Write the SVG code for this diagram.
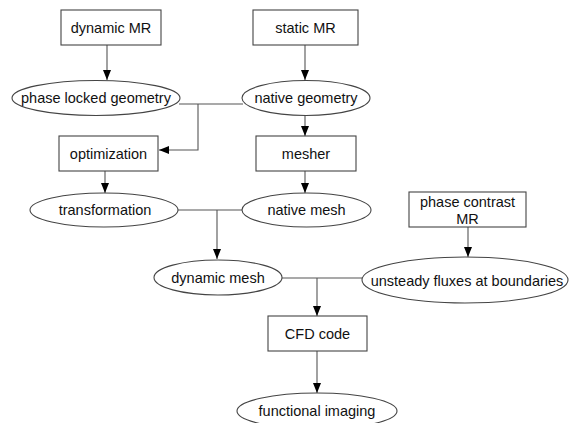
<svg xmlns="http://www.w3.org/2000/svg" width="574" height="423" viewBox="0 0 574 423">
  <defs>
    <marker id="arrow" viewBox="0 0 10 10" refX="10" refY="5" markerWidth="10" markerHeight="10" markerUnits="userSpaceOnUse" orient="auto">
      <path d="M0,1 L10,5 L0,9 Z" fill="#000"/>
    </marker>
    <style>
      rect, ellipse { fill: #fff; stroke: #444; stroke-width: 1.1; }
      text { font-family: "Liberation Sans", Arial, sans-serif; font-size: 14.5px; fill: #111; text-anchor: middle; dominant-baseline: central; }
      .edge { fill: none; stroke: #555; stroke-width: 1.1; }
    </style>
  </defs>
  <rect width="574" height="423" fill="#fff" style="stroke:none"/>

  <g id="connectors">
    <path class="edge" d="M107,45 V80" marker-end="url(#arrow)"/>
    <path class="edge" d="M305,45 V80" marker-end="url(#arrow)"/>
    <path class="edge" d="M179,104 H243"/>
    <path class="edge" d="M198,104 V150 H159" marker-end="url(#arrow)"/>
    <path class="edge" d="M305,115 V136" marker-end="url(#arrow)"/>
    <path class="edge" d="M105,171 V193" marker-end="url(#arrow)"/>
    <path class="edge" d="M305,171 V193" marker-end="url(#arrow)"/>
    <path class="edge" d="M178,210 H243"/>
    <path class="edge" d="M217,210 V259" marker-end="url(#arrow)"/>
    <path class="edge" d="M468,227 V257" marker-end="url(#arrow)"/>
    <path class="edge" d="M282,278 H362"/>
    <path class="edge" d="M317,278 V316" marker-end="url(#arrow)"/>
    <path class="edge" d="M317,351 V393" marker-end="url(#arrow)"/>
  </g>

  <g id="dynamic-mr">
    <rect x="61" y="10" width="100" height="35"/>
    <text x="111" y="28">dynamic MR</text>
  </g>
  <g id="static-mr">
    <rect x="253" y="10" width="105" height="35"/>
    <text x="305.5" y="28">static MR</text>
  </g>
  <g id="phase-locked-geometry">
    <ellipse cx="96" cy="98" rx="84" ry="17.5"/>
    <text x="96" y="98">phase locked geometry</text>
  </g>
  <g id="native-geometry">
    <ellipse cx="306" cy="98" rx="64" ry="17.5"/>
    <text x="306" y="98">native geometry</text>
  </g>
  <g id="optimization">
    <rect x="59" y="136" width="99" height="35"/>
    <text x="108.5" y="154">optimization</text>
  </g>
  <g id="mesher">
    <rect x="256" y="136" width="100" height="35"/>
    <text x="306" y="154">mesher</text>
  </g>
  <g id="transformation">
    <ellipse cx="104" cy="210" rx="74" ry="17"/>
    <text x="105" y="210">transformation</text>
  </g>
  <g id="native-mesh">
    <ellipse cx="306.5" cy="210" rx="64.5" ry="17"/>
    <text x="306.5" y="210">native mesh</text>
  </g>
  <g id="phase-contrast-mr">
    <rect x="409" y="192" width="117" height="35"/>
    <text x="467.5" y="202">phase contrast</text>
    <text x="467.5" y="219">MR</text>
  </g>
  <g id="dynamic-mesh">
    <ellipse cx="218" cy="277.5" rx="64" ry="17.5"/>
    <text x="218" y="278">dynamic mesh</text>
  </g>
  <g id="unsteady-fluxes">
    <ellipse cx="465" cy="280" rx="103" ry="23"/>
    <text x="467" y="281">unsteady fluxes at boundaries</text>
  </g>
  <g id="cfd-code">
    <rect x="268" y="316" width="99" height="35"/>
    <text x="317.5" y="334">CFD code</text>
  </g>
  <g id="functional-imaging">
    <ellipse cx="317" cy="411" rx="80" ry="18"/>
    <text x="317" y="411">functional imaging</text>
  </g>
</svg>
